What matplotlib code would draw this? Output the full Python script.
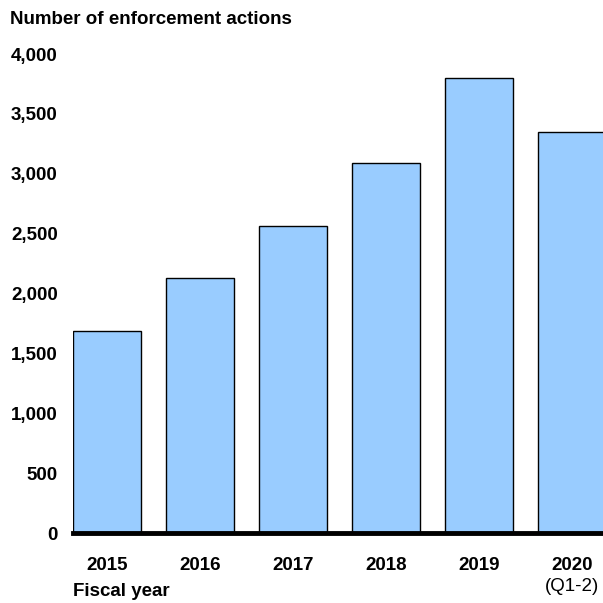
import numpy as np
import matplotlib.pyplot as plt

plt.rcParams['font.family'] = ['Liberation Sans', 'DejaVu Sans']

# Enforcement actions per fiscal year
years = ["2015", "2016", "2017", "2018", "2019", "2020"]
actions = [1690, 2130, 2565, 3090, 3800, 3350]
yticks = [0, 500, 1000, 1500, 2000, 2500, 3000, 3500, 4000]

fig = plt.figure(figsize=(6.03, 6.03), dpi=100)
ax = fig.add_axes([73 / 603, 70 / 603, 530 / 603, 479 / 603])

x = np.arange(len(years))
ax.bar(x, actions, width=0.73, color="#99ccff", edgecolor="black", linewidth=1)

ax.set_xlim(-0.365, 5.333)
ax.set_ylim(0, 4000)
ax.set_yticks(yticks)
ax.set_yticklabels([f"{v:,}" for v in yticks], fontsize=13.5, fontweight="bold")
ax.set_xticks(x)
ax.set_xticklabels(years, fontsize=13.5, fontweight="bold")
ax.tick_params(axis="both", length=0)
ax.tick_params(axis="y", pad=11)
ax.tick_params(axis="x", pad=17)

for side in ["top", "right", "left"]:
    ax.spines[side].set_visible(False)
ax.spines["bottom"].set_linewidth(3.5)
ax.spines["bottom"].set_zorder(5)

ax.text(5, -445, "(Q1-2)", ha="center", va="center", fontsize=13.5)

fig.text(10 / 603, 1 - 20 / 603, "Number of enforcement actions",
         fontsize=13.5, fontweight="bold", va="center", ha="left")
fig.text(73 / 603, 1 - 592 / 603, "Fiscal year",
         fontsize=13.5, fontweight="bold", va="center", ha="left")

fig.savefig("out.png", dpi=100)
